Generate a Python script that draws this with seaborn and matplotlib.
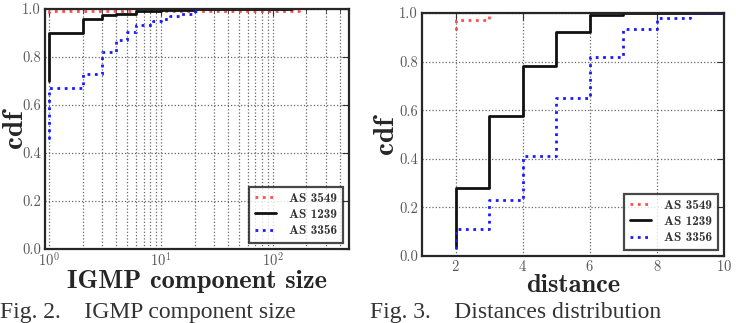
import numpy as np
import pandas as pd
import matplotlib
matplotlib.use("Agg")
import matplotlib.pyplot as plt
import seaborn as sns
from matplotlib.ticker import LogLocator

# ---------------- data ----------------
series_names = ["AS 3549", "AS 1239", "AS 3356"]
series_colors = ["#ff4d4d", "#111111", "#1a1aff"]
series_styles = [":", "-", ":"]

# Fig. 2: IGMP component size (cdf)
size_x_3549 = [1, 1, 170]
size_y_3549 = [0.985, 0.99, 0.995]
size_x_1239 = [1, 1, 2, 3, 4, 6, 10, 20, 150]
size_y_1239 = [0.70, 0.90, 0.96, 0.975, 0.98, 0.99, 0.995, 1.0, 1.0]
size_x_3356 = [1, 1, 2, 3, 4, 5, 6, 8.5, 10, 12, 15, 20, 22]
size_y_3356 = [0.46, 0.67, 0.73, 0.82, 0.87, 0.905, 0.935, 0.95, 0.96, 0.97, 0.98, 0.99, 1.0]

# Fig. 3: distances distribution (cdf)
dist_x_3549 = [2, 2, 3, 3]
dist_y_3549 = [0.93, 0.97, 0.97, 1.0]
dist_x_1239 = [2, 2, 3, 4, 5, 6, 7, 10]
dist_y_1239 = [0.04, 0.28, 0.575, 0.78, 0.92, 0.99, 1.0, 1.0]
dist_x_3356 = [2, 2, 3, 4, 5, 6, 7, 8, 9, 10]
dist_y_3356 = [0.03, 0.11, 0.23, 0.41, 0.65, 0.82, 0.935, 0.98, 1.0, 1.0]

y_ticks = [0.0, 0.2, 0.4, 0.6, 0.8, 1.0]
dist_ticks = [2, 4, 6, 8, 10]

# ---------------- style ----------------
sns.set_style("white")
plt.rcParams["mathtext.fontset"] = "cm"
plt.rcParams["axes.formatter.use_mathtext"] = True
plt.rcParams["font.family"] = ["cmr10", "DejaVu Serif"]

fig = plt.figure(figsize=(7.36, 3.23), dpi=100)
ax1 = fig.add_axes([45 / 736, 1 - 249 / 323, 304 / 736, 240 / 323])
ax2 = fig.add_axes([422 / 736, 1 - 256 / 323, 302 / 736, 243 / 323])

tick_color = "0.35"
grid_kw = dict(color="0.4", linestyle=":", linewidth=0.9)


def draw(ax, xs, ys):
    for name, x, y, c, ls in zip(series_names, xs, ys, series_colors, series_styles):
        df = pd.DataFrame({"x": x, "y": y})
        sns.lineplot(data=df, x="x", y="y", ax=ax, estimator=None, sort=False,
                     drawstyle="steps-post", color=c, linestyle=ls,
                     linewidth=2.0, label=name)


def style_axes(ax, ylabelpad):
    for s in ax.spines.values():
        s.set_linewidth(1.6)
        s.set_color("0.15")
    ax.set_ylim(0, 1)
    ax.set_yticks(y_ticks)
    ax.set_yticklabels([f"{v:.1f}" for v in y_ticks])
    ax.tick_params(axis="both", which="both", direction="in", colors="0.2",
                   labelcolor=tick_color, labelsize=10.5, top=True, right=True)
    ax.tick_params(axis="x", which="both", pad=2)
    ax.tick_params(axis="y", which="both", pad=3)
    ax.tick_params(which="major", length=5)
    ax.tick_params(which="minor", length=3)
    ax.set_ylabel("cdf", fontsize=21, fontfamily="cmb10", labelpad=ylabelpad)
    leg = ax.legend(loc="lower right", fontsize=9.5, frameon=True, fancybox=False,
                    handlelength=1.6, handletextpad=1.0, borderpad=0.45,
                    labelspacing=0.3, borderaxespad=0.45)
    leg.get_frame().set_edgecolor("0.1")
    leg.get_frame().set_linewidth(1.6)
    for t in leg.get_texts():
        t.set_fontfamily("cmb10")
        t.set_color("0.2")


# left
draw(ax1, [size_x_3549, size_x_1239, size_x_3356], [size_y_3549, size_y_1239, size_y_3356])
ax1.set_xscale("log")
ax1.set_xlim(0.92, 480)
ax1.xaxis.set_major_locator(LogLocator(base=10))
ax1.xaxis.set_minor_locator(LogLocator(base=10, subs=np.arange(2, 10)))
ax1.grid(True, which="both", axis="x", **grid_kw)
ax1.grid(True, which="major", axis="y", **grid_kw)
style_axes(ax1, -4)
ax1.set_xlabel("IGMP component size", fontsize=19, fontfamily="cmb10", labelpad=0)

# right
draw(ax2, [dist_x_3549, dist_x_1239, dist_x_3356], [dist_y_3549, dist_y_1239, dist_y_3356])
ax2.set_xlim(1, 10)
ax2.set_xticks(dist_ticks)
ax2.grid(True, which="major", **grid_kw)
style_axes(ax2, 0)
ax2.set_xlabel("distance", fontsize=19, fontfamily="cmb10", labelpad=0)

# captions
fig.text(0 / 736, 1 - 318 / 323, "Fig. 2.    IGMP component size", fontsize=17,
         fontfamily=["Liberation Serif"], va="baseline", color="0.2")
fig.text(370 / 736, 1 - 318 / 323, "Fig. 3.    Distances distribution", fontsize=17,
         fontfamily=["Liberation Serif"], va="baseline", color="0.2")

fig.savefig("out.png", dpi=100)
